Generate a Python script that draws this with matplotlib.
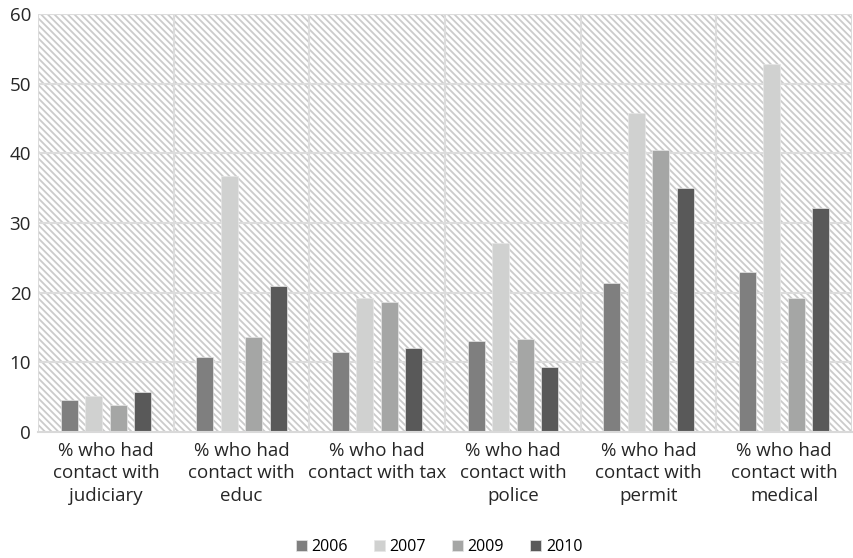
import numpy as np
import matplotlib.pyplot as plt
from matplotlib.patches import Rectangle

plt.rcParams['font.family'] = ['Open Sans', 'DejaVu Sans']
plt.rcParams['hatch.linewidth'] = 1.3

categories = ['% who had\ncontact with\njudiciary', '% who had\ncontact with\neduc',
              '% who had\ncontact with tax', '% who had\ncontact with\npolice',
              '% who had\ncontact with\npermit', '% who had\ncontact with\nmedical']
years = ['2006', '2007', '2009', '2010']
v2006 = [4.6, 10.8, 11.5, 13.0, 21.4, 22.9]
v2007 = [5.2, 36.7, 19.2, 27.2, 45.8, 52.8]
v2009 = [3.9, 13.6, 18.6, 13.3, 40.5, 19.2]
v2010 = [5.7, 20.9, 12.0, 9.3, 35.0, 32.1]
colors = ['#7f7f7f', '#d0d1d0', '#a5a6a5', '#595959']

fig = plt.figure(figsize=(8.54, 5.58), dpi=100)
ax = fig.add_axes([38 / 854, 126 / 558, 814 / 854, 418 / 558])

# hatched background behind everything
ax.add_patch(Rectangle((0, 0), 1, 1, transform=ax.transAxes, facecolor='white',
                       edgecolor='#cbcbcb', hatch='\\' * 5, lw=0, zorder=0))

x = np.arange(len(categories))
width = 0.125
step = 0.18
for i, (vals, yr) in enumerate(zip([v2006, v2007, v2009, v2010], years)):
    ax.bar(x + (i - 1.5) * step, vals, width, color=colors[i], label=yr, zorder=3,
           edgecolor='#e6e6e6', linewidth=0.5)

ax.set_xlim(-0.5, len(categories) - 0.5)
ax.set_ylim(0, 60)
ax.set_yticks(range(0, 61, 10))
for yv in range(10, 61, 10):
    ax.axhline(yv, color='#dcdcdc', lw=1.5, zorder=1)
for xv in np.arange(-0.5, len(categories) + 0.5, 1):
    ax.axvline(xv, color='#dcdcdc', lw=1.5, zorder=1)

for s in ['top', 'right', 'left']:
    ax.spines[s].set_visible(False)
ax.spines['bottom'].set_color('#d9d9d9')
ax.spines['bottom'].set_linewidth(1.5)
ax.spines['bottom'].set_zorder(4)

ax.set_xticks(x)
ax.set_xticklabels(categories, fontsize=13.5, color='#262626', linespacing=1.32)
ax.tick_params(axis='both', length=0, colors='#262626')
ax.tick_params(axis='y', labelsize=13.5, pad=5)
ax.tick_params(axis='x', pad=7)

ax.legend(loc='center', bbox_to_anchor=(0.4926, -0.275), ncol=4, frameon=False,
          fontsize=11.5, handlelength=0.7, handleheight=0.7, handletextpad=0.3,
          columnspacing=1.6)

fig.savefig('out.png', dpi=100)
